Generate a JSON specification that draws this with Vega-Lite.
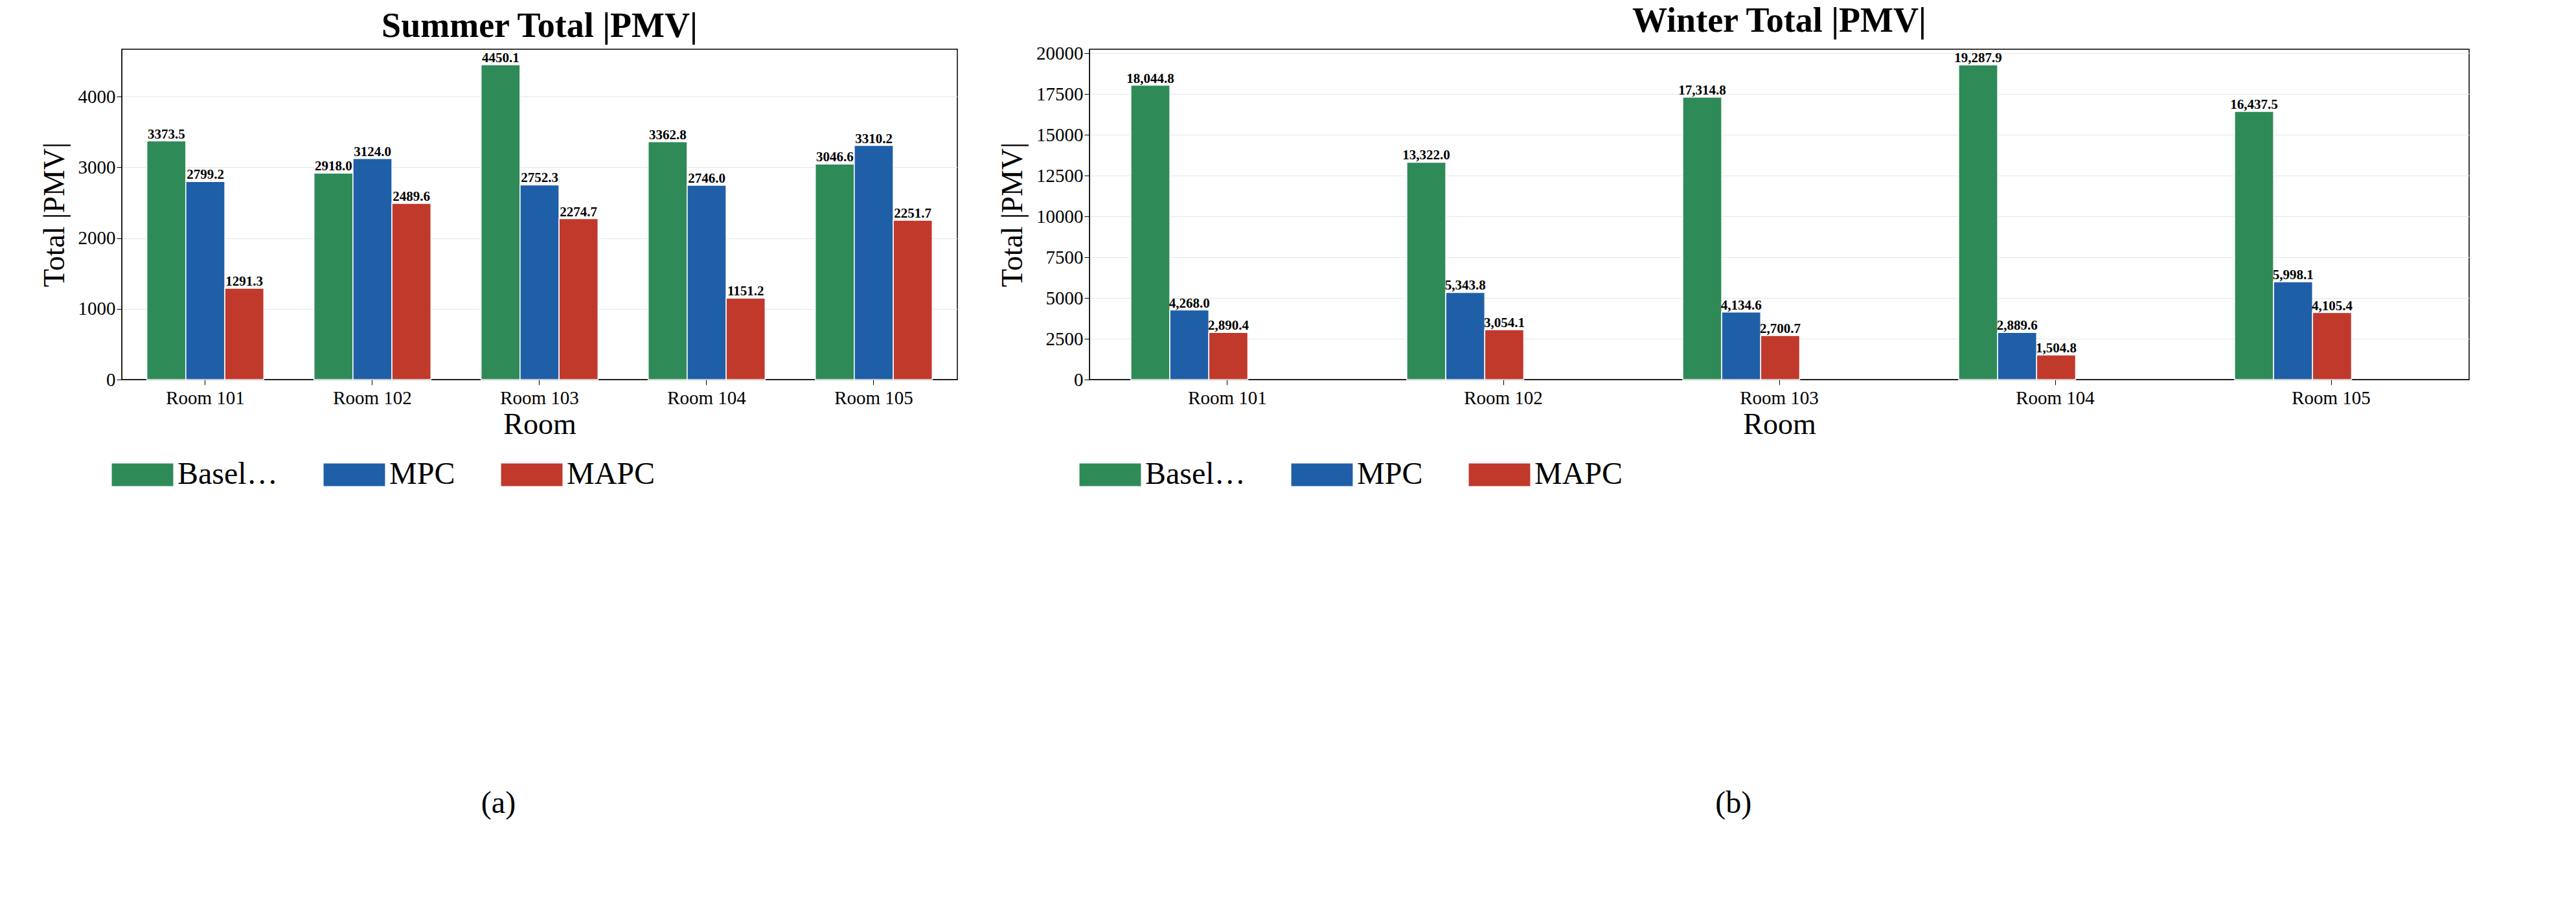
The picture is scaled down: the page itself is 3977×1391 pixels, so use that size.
{
"$schema":"https://vega.github.io/schema/vega-lite/v6.json",
"background":"white",
"padding":{"left":60,"top":5,"right":5,"bottom":5},
"config":{"font":"Liberation Serif","view":{"stroke":"black","strokeWidth":1.5},
"axis":{"labelFontSize":29,"titleFontSize":46,"titleFontWeight":"normal","labelColor":"black","titleColor":"black","domainColor":"black","tickColor":"black","gridColor":"#e6e6e6"},
"legend":{"labelFontSize":48,"orient":"bottom","direction":"horizontal","symbolType":"M-1.5,-0.55H1.5V0.55H-1.5Z","symbolSize":4000,"symbolStrokeWidth":0,"columnPadding":70,"labelOffset":22,"title":null,"offset":22},
"title":{"fontSize":54,"fontWeight":"bold","color":"black"}},
"resolve":{"legend":{"color":"independent"},"scale":{"y":"independent"}},
"spacing":60,
"hconcat":[
{"title":{"text":"(a)","orient":"bottom","anchor":"middle","fontSize":48,"fontWeight":"normal","offset":460},
"vconcat":[{"title":{"text":"Summer Total |PMV|","offset":8},
"width":1290,"height":510,
"data":{"values":[
{"room":"Room 101","m":"Baseline","v":3373.5},{"room":"Room 101","m":"MPC","v":2799.2},{"room":"Room 101","m":"MAPC","v":1291.3},
{"room":"Room 102","m":"Baseline","v":2918.0},{"room":"Room 102","m":"MPC","v":3124.0},{"room":"Room 102","m":"MAPC","v":2489.6},
{"room":"Room 103","m":"Baseline","v":4450.1},{"room":"Room 103","m":"MPC","v":2752.3},{"room":"Room 103","m":"MAPC","v":2274.7},
{"room":"Room 104","m":"Baseline","v":3362.8},{"room":"Room 104","m":"MPC","v":2746.0},{"room":"Room 104","m":"MAPC","v":1151.2},
{"room":"Room 105","m":"Baseline","v":3046.6},{"room":"Room 105","m":"MPC","v":3310.2},{"room":"Room 105","m":"MAPC","v":2251.7}]},
"encoding":{
"x":{"field":"room","type":"nominal","title":"Room","scale":{"paddingInner":0.3,"paddingOuter":0.15},"axis":{"labelAngle":0,"labelPadding":6,"tickSize":8,"titlePadding":4}},
"xOffset":{"field":"m","sort":["Baseline","MPC","MAPC"]},
"y":{"field":"v","type":"quantitative","title":"Total |PMV|","scale":{"domain":[0,4670],"nice":false},"axis":{"values":[0,1000,2000,3000,4000],"format":"d","tickSize":8,"titlePadding":12}}},
"layer":[
{"mark":{"type":"bar","stroke":"white","strokeWidth":1.5},
"encoding":{"color":{"field":"m","sort":["Baseline","MPC","MAPC"],"scale":{"domain":["Baseline","MPC","MAPC"],"range":["#2e8b57","#1f5fa8","#c0392b"]}}}},
{"mark":{"type":"text","dy":-10,"fontSize":21,"fontWeight":"bold","color":"black"},
"encoding":{"text":{"field":"v","type":"quantitative","format":".1f"}}}
]}]},
{"title":{"text":"(b)","orient":"bottom","anchor":"middle","fontSize":48,"fontWeight":"normal","offset":460},
"vconcat":[{"title":{"text":"Winter Total |PMV|","offset":8},
"width":2130,"height":510,
"data":{"values":[
{"room":"Room 101","m":"Baseline","v":18044.8},{"room":"Room 101","m":"MPC","v":4268.0},{"room":"Room 101","m":"MAPC","v":2890.4},
{"room":"Room 102","m":"Baseline","v":13322.0},{"room":"Room 102","m":"MPC","v":5343.8},{"room":"Room 102","m":"MAPC","v":3054.1},
{"room":"Room 103","m":"Baseline","v":17314.8},{"room":"Room 103","m":"MPC","v":4134.6},{"room":"Room 103","m":"MAPC","v":2700.7},
{"room":"Room 104","m":"Baseline","v":19287.9},{"room":"Room 104","m":"MPC","v":2889.6},{"room":"Room 104","m":"MAPC","v":1504.8},
{"room":"Room 105","m":"Baseline","v":16437.5},{"room":"Room 105","m":"MPC","v":5998.1},{"room":"Room 105","m":"MAPC","v":4105.4}]},
"encoding":{
"x":{"field":"room","type":"nominal","title":"Room","scale":{"paddingInner":0.3,"paddingOuter":0.15},"axis":{"labelAngle":0,"labelPadding":6,"tickSize":8,"titlePadding":4}},
"xOffset":{"field":"m","sort":["Baseline","MPC","MAPC"]},
"y":{"field":"v","type":"quantitative","title":"Total |PMV|","scale":{"domain":[0,20250],"nice":false},"axis":{"values":[0,2500,5000,7500,10000,12500,15000,17500,20000],"format":"d","tickSize":8,"titlePadding":12}}},
"layer":[
{"mark":{"type":"bar","stroke":"white","strokeWidth":1.5},
"encoding":{"color":{"field":"m","sort":["Baseline","MPC","MAPC"],"scale":{"domain":["Baseline","MPC","MAPC"],"range":["#2e8b57","#1f5fa8","#c0392b"]}}}},
{"mark":{"type":"text","dy":-10,"fontSize":21,"fontWeight":"bold","color":"black"},
"encoding":{"text":{"field":"v","type":"quantitative","format":",.1f"}}}
]}]}
]}
